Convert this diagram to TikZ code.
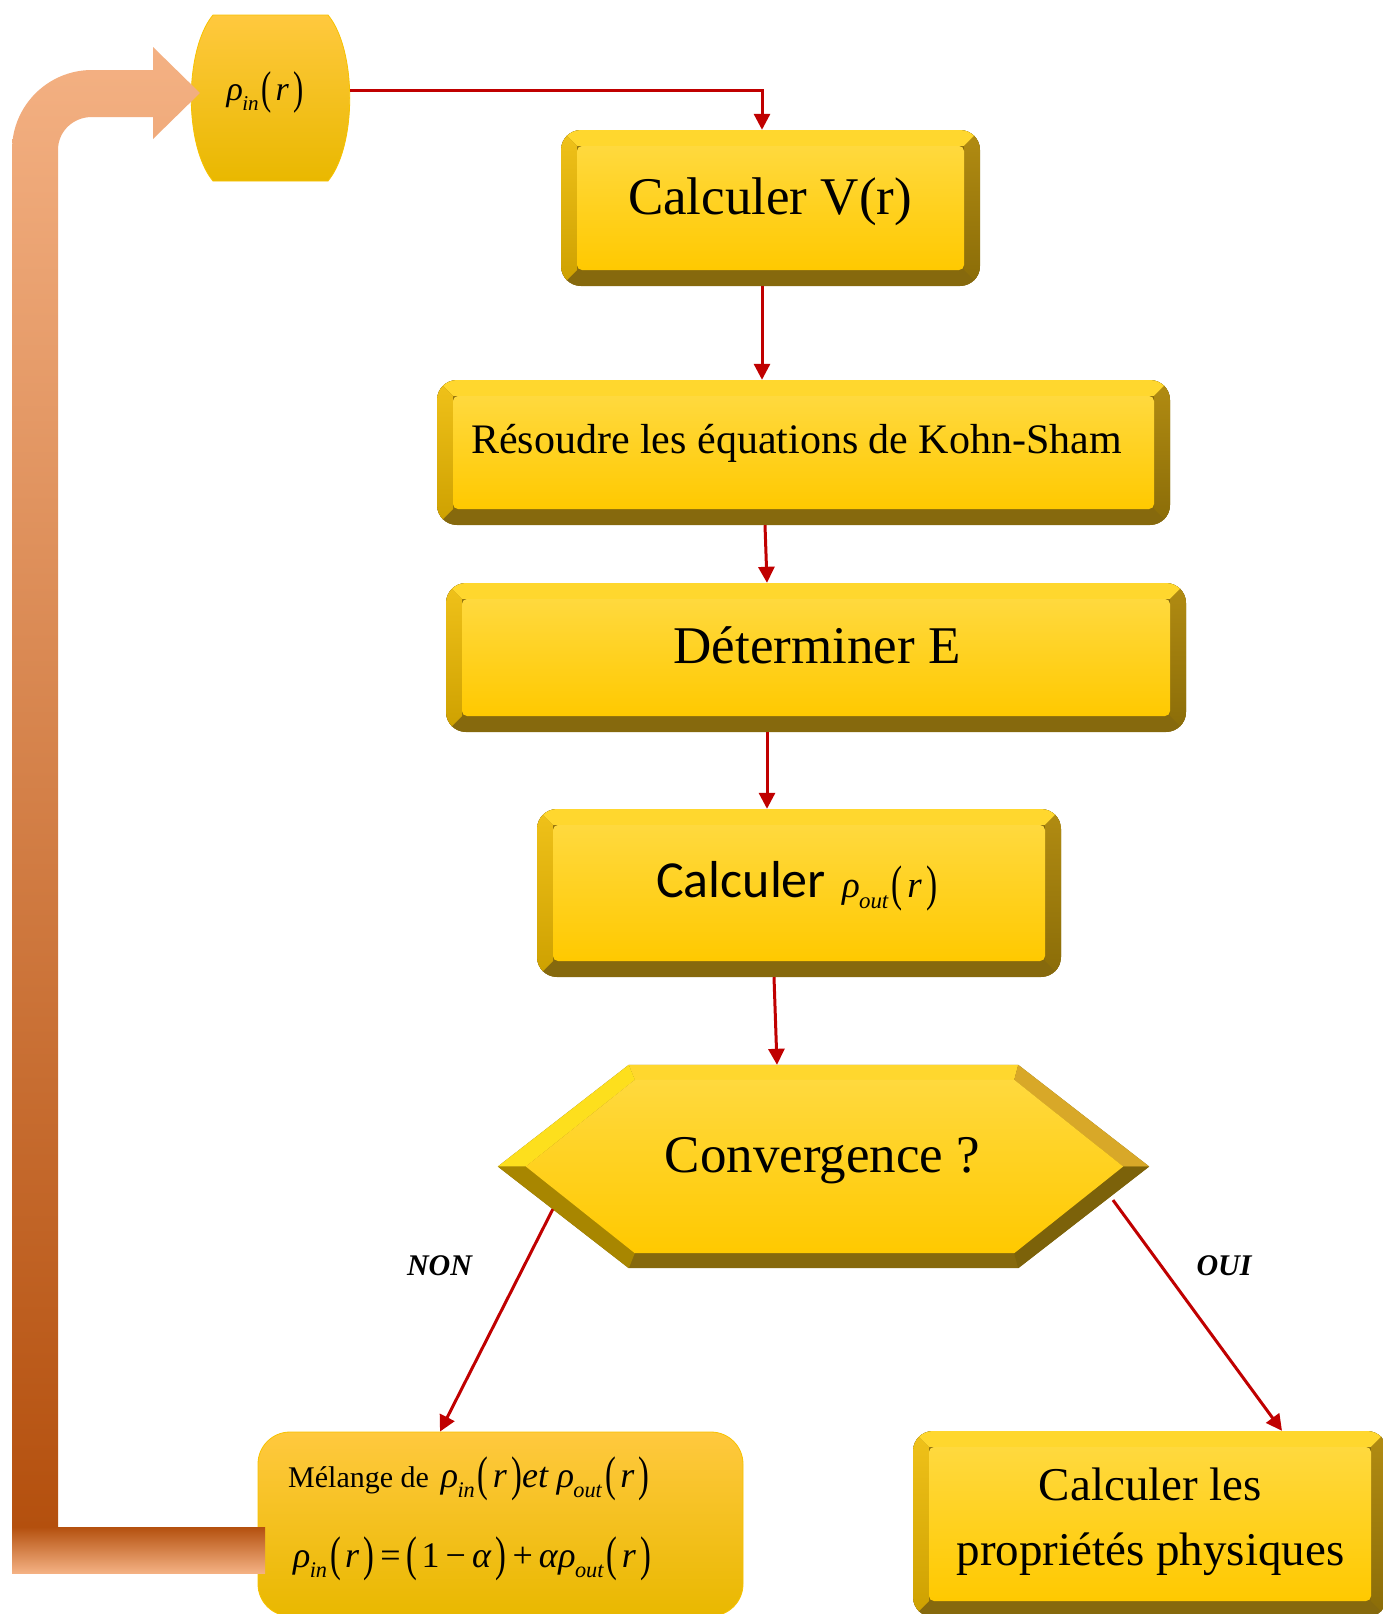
\documentclass[tikz,border=0pt]{standalone}
\usepackage{fontspec}
\usepackage{graphicx}
\setmainfont{Liberation Serif}
\newfontfamily\sansbody{Carlito}
\usetikzlibrary{arrows.meta,calc}

\definecolor{linkred}{HTML}{C00000}
\definecolor{loopA}{HTML}{F4B183}
\definecolor{loopB}{HTML}{EE7F32}
\definecolor{loopC}{HTML}{B4500E}
\definecolor{bvtop}{HTML}{FFD72E}
\definecolor{bvleftA}{HTML}{F0C21A}
\definecolor{bvleftB}{HTML}{CDA000}
\definecolor{bvrightA}{HTML}{B28C12}
\definecolor{bvrightB}{HTML}{8A6C08}
\definecolor{bvbottom}{HTML}{86690D}
\definecolor{faceA}{HTML}{FFD93E}
\definecolor{faceB}{HTML}{FFC900}
\definecolor{softA}{HTML}{FFC93E}
\definecolor{softB}{HTML}{FFC600}
\definecolor{softC}{HTML}{E9B800}
\definecolor{softedge}{HTML}{F7C200}

\newcommand\fs[1]{\fontsize{#1}{#1}\selectfont}
% italic rho carrying an italic subscript
\newcommand\rhosub[1]{\textit{ρ}\kern-0.02em\raisebox{-0.3em}{\scalebox{0.62}{\textit{#1}}}}
% stretched parentheses
\newcommand\lpar{\raisebox{-0.1em}{\scalebox{0.9}[1.35]{(}}\kern0.12em}
\newcommand\rpar{\kern0.12em\raisebox{-0.1em}{\scalebox{0.9}[1.35]{)}}}
\newcommand\ofr{\kern0.08em\lpar\textit{r}\rpar}

\begin{document}
\begin{tikzpicture}[x=1pt,y=-1pt,
  conn/.style={draw=linkred, line width=3pt, -{Triangle[length=16pt,width=16pt]}},
  bevelbox/.style={rounded corners=20pt, inner sep=0pt, fill=bvbottom,
    path picture={
      \coordinate (bNW) at (path picture bounding box.north west);
      \coordinate (bNE) at (path picture bounding box.north east);
      \coordinate (bSW) at (path picture bounding box.south west);
      \coordinate (bSE) at (path picture bounding box.south east);
      \coordinate (iNW) at ([shift={(16pt,-16pt)}]bNW);
      \coordinate (iNE) at ([shift={(-16pt,-16pt)}]bNE);
      \coordinate (iSW) at ([shift={(16pt,16pt)}]bSW);
      \coordinate (iSE) at ([shift={(-16pt,16pt)}]bSE);
      \begin{scope}[sharp corners]
        \fill[bvbottom] (bNW) rectangle (bSE);
        \fill[bvtop] (bNW) -- (bNE) -- (iNE) -- (iNW) -- cycle;
        \shade[top color=bvleftA, bottom color=bvleftB] (bNW) -- (iNW) -- (iSW) -- (bSW) -- cycle;
        \shade[top color=bvrightA, bottom color=bvrightB] (bNE) -- (bSE) -- (iSE) -- (iNE) -- cycle;
      \end{scope}
      \shade[top color=faceA, bottom color=faceB, rounded corners=5pt] (iNW) rectangle (iSE);
    }},
  softbox/.style={rounded corners=32pt, inner sep=0pt, draw=softedge, line width=0.8pt,
    top color=softA, middle color=softB, bottom color=softC},
  label/.style={anchor=base, inner sep=0pt},
  ghost/.style={inner sep=0pt, draw=none}
]
\useasboundingbox (0,0) rectangle (1383,1614);
\fill[white] (0,0) rectangle (1383,1614);

% ---- starting density (barrel) ----
\node[ghost, minimum width=157, minimum height=166] (rin) at (271.5,98) {};
\shade[top color=softA, middle color=softB, bottom color=softC, draw=softedge, line width=0.8pt]
  (213,15) -- (328,15) .. controls (357,50) and (357,146) .. (328,181)
  -- (213,181) .. controls (184,146) and (184,50) .. (213,15) -- cycle;
\node[label] (trin) at (265,100) {\fs{34}\rhosub{in}\ofr};

% ---- process boxes ----
\node[bevelbox, minimum width=419, minimum height=156] (V) at (770.5,208) {};
\node[label] (tV) at (770,214) {\fs{53}Calculer V(r)};

\node[bevelbox, minimum width=733, minimum height=145] (R) at (803.5,452.5) {};
\node[label] (tR) at (796.5,453) {\fs{42}Résoudre les équations de Kohn-Sham};

\node[bevelbox, minimum width=740, minimum height=149] (D) at (816,657.5) {};
\node[label] (tD) at (817,663) {\fs{53}Déterminer E};

\node[bevelbox, minimum width=524, minimum height=168] (C) at (799,893) {};
\node[label, anchor=base west] (tC) at (656,897)
  {{\sansbody\fs{52}Calculer}\hspace{16pt}\fs{37}\rhosub{out}\ofr};

% ---- convergence test (hexagon) ----
\node[ghost, minimum width=651, minimum height=203] (cv) at (823.5,1166.5) {};
\coordinate (hL)  at (cv.west);
\coordinate (hTL) at ([xshift=131pt]cv.north west);
\coordinate (hTR) at ([xshift=-131pt]cv.north east);
\coordinate (hR)  at (cv.east);
\coordinate (hBR) at ([xshift=-131pt]cv.south east);
\coordinate (hBL) at ([xshift=131pt]cv.south west);
\coordinate (gL)  at ($(hL)+(28,0)$);
\coordinate (gTL) at ($(hTL)+(6,15)$);
\coordinate (gTR) at ($(hTR)+(-4,15)$);
\coordinate (gR)  at ($(hR)+(-26,0)$);
\coordinate (gBR) at ($(hBR)+(-4,-15)$);
\coordinate (gBL) at ($(hBL)+(6,-15)$);
\fill[bvbottom] (hL) -- (hTL) -- (hTR) -- (hR) -- (hBR) -- (hBL) -- cycle;
\fill[bvtop] (hTL) -- (hTR) -- (gTR) -- (gTL) -- cycle;
\fill[color=yellow!40!bvtop] (hL) -- (hTL) -- (gTL) -- (gL) -- cycle;
\fill[color={rgb,255:red,216;green,168;blue,40}] (hTR) -- (hR) -- (gR) -- (gTR) -- cycle;
\fill[color={rgb,255:red,124;green,98;blue,10}] (hR) -- (hBR) -- (gBR) -- (gR) -- cycle;
\fill[color={rgb,255:red,168;green,134;blue,0}] (hBL) -- (hL) -- (gL) -- (gBL) -- cycle;
\shade[top color=faceA, bottom color=faceB] (gL) -- (gTL) -- (gTR) -- (gR) -- (gBR) -- (gBL) -- cycle;
\node[label] (tcv) at (822.5,1172) {\fs{53}Convergence ?};

% ---- outcome boxes ----
\node[softbox, minimum width=485, minimum height=184] (M) at (500.5,1524) {};
\node[label, anchor=base west] (tM1) at (288,1487)
  {\fs{30}Mélange de\hspace{12pt}\fs{36}\rhosub{in}\ofr\textit{et}\hspace{8pt}\rhosub{out}\ofr};
\node[label, anchor=base west] (tM2) at (293,1567)
  {\fs{36}\rhosub{in}\ofr\,=\,\lpar 1\,−\,\textit{α}\rpar\,+\,\textit{α}\rhosub{out}\ofr};

\node[bevelbox, minimum width=474, minimum height=186] (P) at (1150,1524) {};
\node[label] (tP1) at (1150.5,1500) {\fs{47}Calculer les};
\node[label] (tP2) at (1150.5,1565) {\fs{47}propriétés physiques};

% ---- feedback loop (wide bent arrow) ----
\shade[top color=loopA, middle color=loopB, bottom color=loopC]
  (12,1528) -- (12,150) .. controls (12,105.8) and (47.8,70) .. (92,70)
  -- (153,70) -- (153,47) -- (200,93) -- (153,139) -- (153,117) -- (92,117)
  .. controls (73.2,117) and (58,131.2) .. (58,150) -- (58,1528) -- cycle;
\shade[top color=loopC, middle color=loopB, bottom color=loopA]
  (12,1527) rectangle (265,1573);

% ---- connectors ----
\draw[conn] ([yshift=8pt]rin.east) -| ([xshift=-8.5pt]V.north);
\draw[conn] ([xshift=-8.5pt]V.south) -- ([xshift=-8.5pt]V.south |- R.north);
\draw[conn] ([xshift=-38.5pt]R.south) -- ([xshift=-49pt]D.north);
\draw[conn] ([xshift=-49pt]D.south) -- ([xshift=-32pt]C.north);
\draw[conn] ([xshift=-25pt]C.south) -- ([xshift=-46.5pt]cv.north);
\coordinate (cvno) at ($(hL)!0.42!(hBL)$);
\coordinate (cvyes) at ($(hR)!0.33!(hBR)+(7,0)$);
\draw[conn] (cvno) -- ([xshift=-60.5pt]M.north);
\draw[conn] (cvyes) -- ([xshift=132pt]P.north);

\node[label] (tno) at (439.5,1275) {\fs{30}\bfseries\itshape NON};
\node[label] (tyes) at (1224,1275) {\fs{30}\bfseries\itshape OUI};
\end{tikzpicture}
\end{document}
